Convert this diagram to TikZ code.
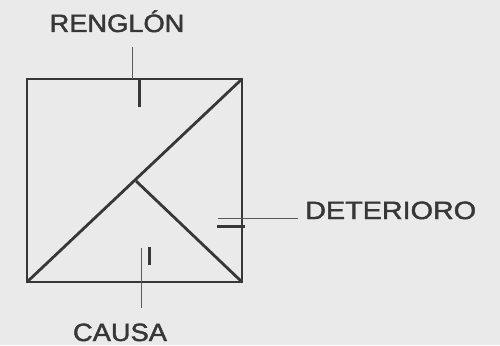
\documentclass[tikz,border=0pt]{standalone}
\usepackage{fontspec}
\setmainfont{Liberation Sans}
\newfontfamily\lblfont[FakeBold=1.6]{Liberation Sans}
\definecolor{bgc}{RGB}{234,234,234}
\definecolor{ink}{RGB}{55,55,55}
\definecolor{thin}{RGB}{90,90,90}
\tikzset{
  edge/.style={draw=ink, line width=2.8pt, line join=miter},
  tick/.style={draw=ink, line width=3pt},
  leader/.style={draw=thin, line width=0.9pt},
  lbl/.style={text=ink, font=\lblfont\fontsize{25}{25}\selectfont, inner sep=0pt}
}
\begin{document}
\begin{tikzpicture}[x=1pt,y=-1pt]
\fill[bgc] (0,0) rectangle (500,345);
\useasboundingbox (0,0) rectangle (500,345);
% square corners
\coordinate (TL) at (27,79);
\coordinate (TR) at (242,79);
\coordinate (BR) at (242,282);
\coordinate (BL) at (27,282);
\coordinate (M) at (136,181);
\draw[edge] (TL) -- (TR) -- (BR) -- (BL) -- cycle;
\draw[edge] (BL) -- (TR);
\draw[edge] (M) -- (BR);
% labels
\node[lbl, anchor=base] (renglon) at (117,32) {\scalebox{1.09}[1]{RENGLÓN}};
\node[lbl, anchor=base west] (deterioro) at (305,219) {\scalebox{1.15}[1]{DETERIORO}};
\node[lbl, anchor=base] (causa) at (120,341) {\scalebox{1.09}[1]{CAUSA}};
% leaders
\coordinate (r1) at (132,47);
\coordinate (r2) at (132,79);
\draw[leader] (r1) -- (r2);
\coordinate (rt1) at (139,79);
\coordinate (rt2) at (139,107);
\draw[tick] (rt1) -- (rt2);
\coordinate (d1) at (298,218);
\coordinate (d2) at (218,218);
\draw[leader] (d1) -- (d2);
\coordinate (dt1) at (217,226);
\coordinate (dt2) at (245,226);
\draw[tick] (dt1) -- (dt2);
\coordinate (c1) at (141,248);
\coordinate (c2) at (141,308);
\draw[leader] (c1) -- (c2);
\coordinate (ct1) at (149,247);
\coordinate (ct2) at (149,265);
\draw[tick] (ct1) -- (ct2);
\end{tikzpicture}
\end{document}
